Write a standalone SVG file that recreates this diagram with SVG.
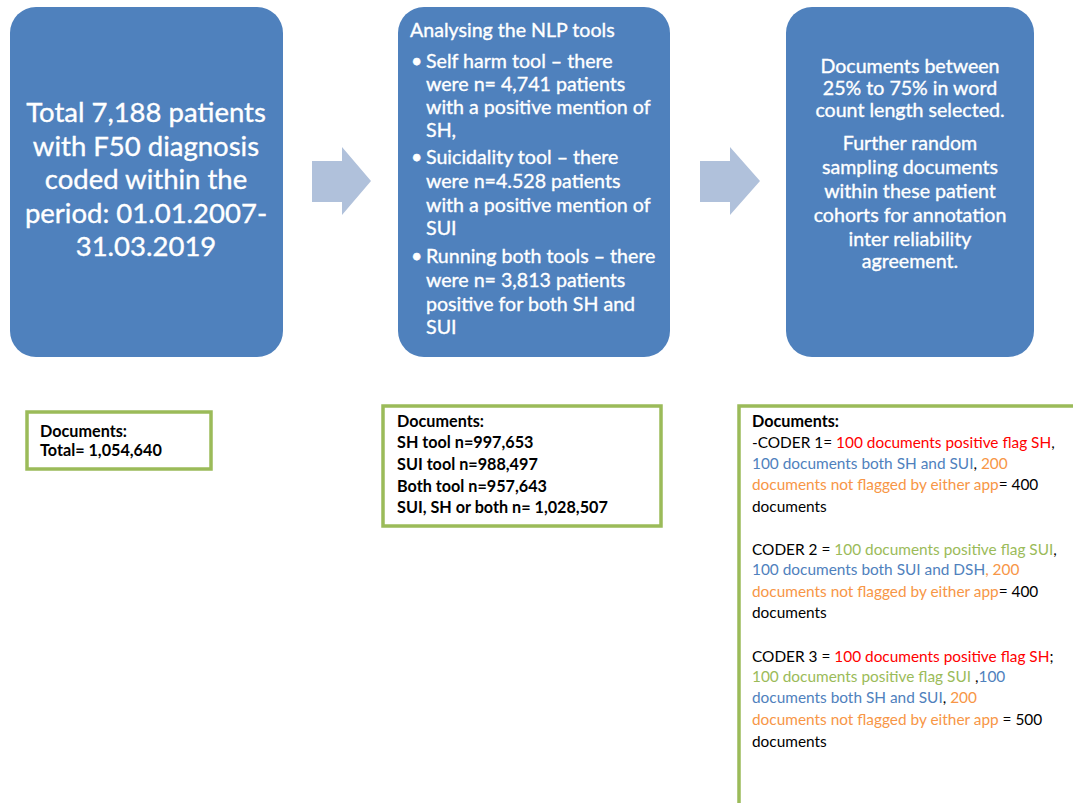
<svg xmlns="http://www.w3.org/2000/svg" width="1073" height="803" viewBox="0 0 1073 803">
<style>
.node{fill:#4F81BD}
.wt{fill:#fff;font-family:Lato,"Open Sans",sans-serif;stroke:#fff;stroke-width:0.35}
.big{font-size:27.5px;text-anchor:middle}
.mid{font-size:19.6px}
.c3{font-size:19.6px;text-anchor:middle}
.gbox{fill:#fff;stroke:#9BBB59;stroke-width:3.5}
.bt{font-family:Lato,"Open Sans",sans-serif;font-size:15.4px;fill:#000}
.b{font-weight:bold;font-size:16.2px}
.r{fill:#FF0000}.bl{fill:#4F81BD}.o{fill:#F79646}.g{fill:#9BBB59}
.arrow{fill:#B0C1DB}
</style>
<rect width="1073" height="803" fill="#fff"/>
<g id="connectors">
<polygon class="arrow" points="312,161 342,161 342,147 371,181 342,215 342,202 312,202"/>
<polygon class="arrow" points="700,161 730,161 730,147 760,181 730,215 730,202 700,202"/>
</g>
<g id="node1">
<rect class="node" x="10" y="7" width="273" height="350" rx="26"/>
<text class="wt big" x="146" y="122">Total 7,188 patients</text>
<text class="wt big" x="146" y="155.5">with F50 diagnosis</text>
<text class="wt big" x="146" y="189">coded within the</text>
<text class="wt big" x="146" y="222.5">period: 01.01.2007-</text>
<text class="wt big" x="146" y="256">31.03.2019</text>
</g>
<g id="node2">
<rect class="node" x="398" y="7" width="272" height="350" rx="26"/>
<text class="wt mid" x="410" y="37">Analysing the NLP tools</text>
<g class="wt mid">
<text x="411" y="68">•</text>
<text x="426" y="68">Self harm tool – there</text>
<text x="426" y="91">were n= 4,741 patients</text>
<text x="426" y="114">with a positive mention of</text>
<text x="426" y="137">SH,</text>
<text x="411" y="164">•</text>
<text x="426" y="164">Suicidality tool – there</text>
<text x="426" y="188">were n=4.528 patients</text>
<text x="426" y="212">with a positive mention of</text>
<text x="426" y="235">SUI</text>
<text x="411" y="263">•</text>
<text x="426" y="263">Running both tools – there</text>
<text x="426" y="287">were n= 3,813 patients</text>
<text x="426" y="311">positive for both SH and</text>
<text x="426" y="334">SUI</text>
</g>
</g>
<g id="node3">
<rect class="node" x="786" y="7" width="248" height="350" rx="26"/>
<g class="wt c3">
<text x="910" y="73">Documents between</text>
<text x="910" y="95">25% to 75% in word</text>
<text x="910" y="117">count length selected.</text>
<text x="910" y="150">Further random</text>
<text x="910" y="174">sampling documents</text>
<text x="910" y="198">within these patient</text>
<text x="910" y="222">cohorts for annotation</text>
<text x="910" y="246">inter reliability</text>
<text x="910" y="268">agreement.</text>
</g>
</g>
<g id="docs1">
<rect class="gbox" x="27" y="412" width="184" height="57"/>
<text class="bt b" x="40" y="437">Documents:</text>
<text class="bt b" x="40" y="456">Total= 1,054,640</text>
</g>
<g id="docs2">
<rect class="gbox" x="383" y="406" width="278" height="120"/>
<g class="bt b">
<text x="397" y="427">Documents:</text>
<text x="397" y="448">SH tool n=997,653</text>
<text x="397" y="470">SUI tool n=988,497</text>
<text x="397" y="492">Both tool n=957,643</text>
<text x="397" y="513">SUI, SH or both n= 1,028,507</text>
</g>
</g>
<g id="docs3">
<rect class="gbox" x="739" y="406" width="345" height="410"/>
<g class="bt">
<text class="b" x="752" y="427">Documents:</text>
<text x="752" y="448">-CODER 1= <tspan class="r">100 documents positive flag SH</tspan>,</text>
<text x="752" y="469"><tspan class="bl">100 documents both SH and SUI</tspan>, <tspan class="o">200</tspan></text>
<text x="752" y="490"><tspan class="o">documents not flagged by either app</tspan>= 400</text>
<text x="752" y="512">documents</text>
<text x="752" y="555">CODER 2 = <tspan class="g">100 documents positive flag SUI</tspan>,</text>
<text x="752" y="575"><tspan class="bl">100 documents both SUI and DSH</tspan><tspan class="o">, 200</tspan></text>
<text x="752" y="597"><tspan class="o">documents not flagged by either app</tspan>= 400</text>
<text x="752" y="618">documents</text>
<text x="752" y="662">CODER 3 = <tspan class="r">100 documents positive flag SH</tspan>;</text>
<text x="752" y="682"><tspan class="g">100 documents positive flag SUI</tspan> ,<tspan class="bl">100</tspan></text>
<text x="752" y="703"><tspan class="bl">documents both SH and SUI</tspan>, <tspan class="o">200</tspan></text>
<text x="752" y="725"><tspan class="o">documents not flagged by either app</tspan> = 500</text>
<text x="752" y="747">documents</text>
</g>
</g>
</svg>
